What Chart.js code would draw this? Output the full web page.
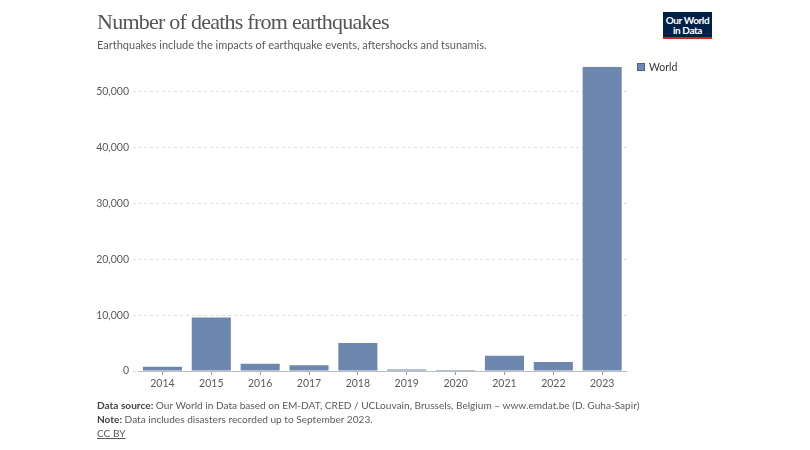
<!DOCTYPE html>
<html>
<head>
<meta charset="utf-8">
<script src="https://cdn.jsdelivr.net/npm/chart.js@4"></script>
<style>
  html, body { margin:0; padding:0; background:#fff; }
  body { width:810px; height:450px; position:relative; overflow:hidden; font-family: Lato, "Noto Sans", sans-serif; }
  #wrap { position:absolute; left:0; top:0; width:810px; height:450px; }
  .title { position:absolute; left:97px; top:9px; font-family:"Liberation Serif", serif; font-size:22px; color:#555; letter-spacing:-0.75px; white-space:nowrap; }
  .subtitle { position:absolute; left:97px; top:38px; font-size:11px; color:#5b5b5b; white-space:nowrap; }
  .legend { position:absolute; left:637px; top:61px; font-size:10.5px; color:#333; white-space:nowrap; }
  .legend span.sw { display:inline-block; width:6px; height:6px; background:#6d87ae; border:0.5px solid #4a6590; vertical-align:middle; margin-right:4px; position:relative; top:-1px; }
  .logo { position:absolute; left:663px; top:12px; width:49px; height:27px; background:#002147; color:#fff; font-size:10px; line-height:10px; text-align:center; font-weight:bold; letter-spacing:-0.4px; }
  .logo .in { padding-top:3px; }
  .logo .red { position:absolute; left:0; bottom:0; width:100%; height:2px; background:#ce261e; }
  .footer { position:absolute; left:97px; top:398px; font-size:10.1px; color:#5b5b5b; line-height:14px; white-space:nowrap; }
  .footer b { color:#444; }
  .footer u { color:#5b5b5b; }
</style>
</head>
<body>
<div id="wrap"><canvas id="c" width="810" height="450"></canvas></div>
<div class="title">Number of deaths from earthquakes</div>
<div class="subtitle">Earthquakes include the impacts of earthquake events, aftershocks and tsunamis.</div>
<div class="legend"><span class="sw"></span>World</div>
<div class="logo"><div class="in">Our World<br>in Data</div><div class="red"></div></div>
<div class="footer">
  <div><b>Data source:</b> Our World in Data based on EM-DAT, CRED / UCLouvain, Brussels, Belgium – www.emdat.be (D. Guha-Sapir)</div>
  <div><b>Note:</b> Data includes disasters recorded up to September 2023.</div>
  <div><u>CC BY</u></div>
</div>
<script>
const years = ["2014","2015","2016","2017","2018","2019","2020","2021","2022","2023"];
const deaths = [770, 9600, 1310, 1020, 5020, 250, 200, 2740, 1610, 54500];
const yTicks = [0, 10000, 20000, 30000, 40000, 50000];
const seriesName = "World";

new Chart(document.getElementById('c'), {
  type: 'bar',
  data: {
    labels: years,
    datasets: [{
      label: seriesName,
      data: deaths,
      backgroundColor: '#6d87ae',
      borderColor: '#6d87ae',
      borderWidth: 0,
      barPercentage: 0.8,
      categoryPercentage: 1.0
    }]
  },
  options: {
    responsive: false,
    animation: false,
    devicePixelRatio: 1,
    layout: { padding: { left: 78, right: 183.4, top: 66.7, bottom: 59 } },
    plugins: { legend: { display: false }, tooltip: { enabled: false } },
    scales: {
      x: {
        offset: true,
        grid: { display: true, offset: false, drawOnChartArea: false, drawTicks: true, tickLength: 4, color: '#999' },
        border: { display: true, color: '#bbbbbb', width: 1 },
        ticks: { color: '#5b5b5b', font: { family: 'Lato', size: 10.5 }, padding: 2, maxRotation: 0 },
        afterFit: (s) => { s.height = 20; }
      },
      y: {
        min: 0,
        max: 54500,
        grid: { color: '#dddddd', tickLength: 5, tickBorderDash: [3, 3], drawTicks: true },
        border: { display: false, dash: [3, 3] },
        afterBuildTicks: (s) => { s.ticks = yTicks.map(v => ({ value: v })); },
        ticks: {
          color: '#5b5b5b', font: { family: 'Lato', size: 10.5 }, padding: 4,
          callback: (v) => v.toLocaleString('en-US')
        },
        afterFit: (s) => { s.width = 60; }
      }
    }
  }
});
</script>
</body>
</html>
